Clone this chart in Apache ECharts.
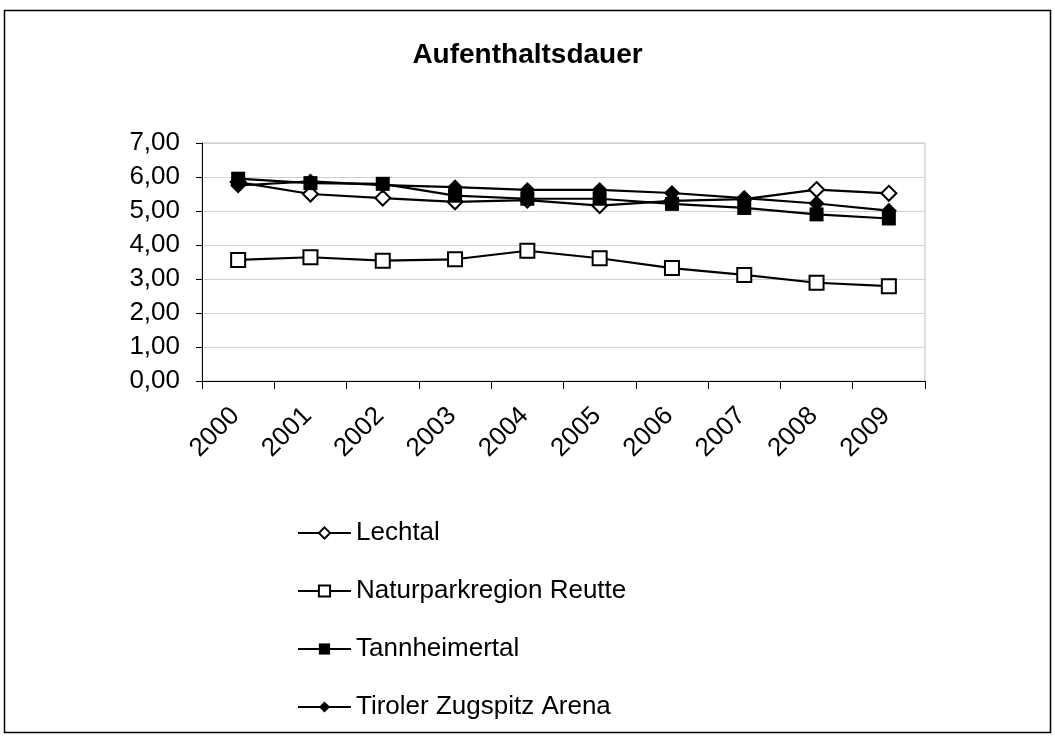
<!DOCTYPE html>
<html>
<head>
<meta charset="utf-8">
<script src="https://cdn.jsdelivr.net/npm/echarts@6/dist/echarts.min.js"></script>
<style>
html,body{margin:0;padding:0;background:#fff;}
#c{width:1055px;height:736px;}
</style>
</head>
<body>
<div id="c"></div>
<script>
const years = ['2000','2001','2002','2003','2004','2005','2006','2007','2008','2009'];
const lechtal = [5.85, 5.50, 5.38, 5.27, 5.32, 5.16, 5.30, 5.35, 5.63, 5.52];
const naturpark = [3.56, 3.64, 3.54, 3.58, 3.83, 3.61, 3.32, 3.12, 2.89, 2.79];
const tannheimertal = [5.95, 5.82, 5.80, 5.45, 5.36, 5.36, 5.21, 5.09, 4.90, 4.78];
const zugspitz = [5.75, 5.87, 5.76, 5.70, 5.62, 5.62, 5.53, 5.38, 5.22, 5.01];
const seriesNames = ['Lechtal','Naturparkregion Reutte','Tannheimertal','Tiroler Zugspitz Arena'];

const font = 'Liberation Sans, Arial, sans-serif';
function mk(name, data, symbol, filled, size){
  return {
    name: name, type: 'line', data: data,
    symbol: symbol, symbolSize: size,
    lineStyle: {color:'#000', width:2.2},
    itemStyle: {color: filled ? '#000' : '#fff', borderColor:'#000', borderWidth: filled ? 0 : 2},
    emphasis: {disabled:true},
    z: 3
  };
}
const chart = echarts.init(document.getElementById('c'), null, {renderer:'canvas'});
chart.setOption({
  animation:false,
  backgroundColor:'#fff',
  title:{text:'Aufenthaltsdauer', left:'center', top:36,
    textStyle:{fontFamily:font, fontSize:28, fontWeight:'bold', color:'#000'}},
  graphic:[{type:'rect', shape:{x:4.5, y:10.5, width:1046, height:722},
    style:{fill:null, stroke:'#000', lineWidth:1.5}, silent:true, z:-1}],
  grid:{left:202, top:143, right:130, bottom:355, show:true, borderColor:'#bfbfbf', borderWidth:1, backgroundColor:'#fff'},
  legend:{orient:'vertical', left:297, top:520, padding:0, itemWidth:53, itemHeight:14, itemGap:32,
    data:seriesNames,
    textStyle:{fontFamily:font, fontSize:26, color:'#000'}},
  xAxis:{type:'category', data:years, boundaryGap:true,
    axisLine:{lineStyle:{color:'#000', width:1}},
    axisTick:{show:true, length:8, lineStyle:{color:'#000'}},
    axisLabel:{rotate:45, fontFamily:font, fontSize:26, color:'#000', margin:28, padding:[0,4,0,0], interval:0}},
  yAxis:{type:'value', min:0, max:7, interval:1,
    axisLine:{show:true, lineStyle:{color:'#000', width:1}},
    axisTick:{show:true, length:6, lineStyle:{color:'#000'}},
    splitLine:{lineStyle:{color:'#d0d0d0', width:1}},
    axisLabel:{fontFamily:font, fontSize:26, color:'#000', margin:22,
      formatter: v => v.toFixed(2).replace('.', ',')}},
  series:[
    mk(seriesNames[0], lechtal, 'diamond', false, 15),
    mk(seriesNames[1], naturpark, 'rect', false, 14),
    mk(seriesNames[2], tannheimertal, 'rect', true, 14),
    mk(seriesNames[3], zugspitz, 'diamond', true, 16)
  ]
});
</script>
</body>
</html>
